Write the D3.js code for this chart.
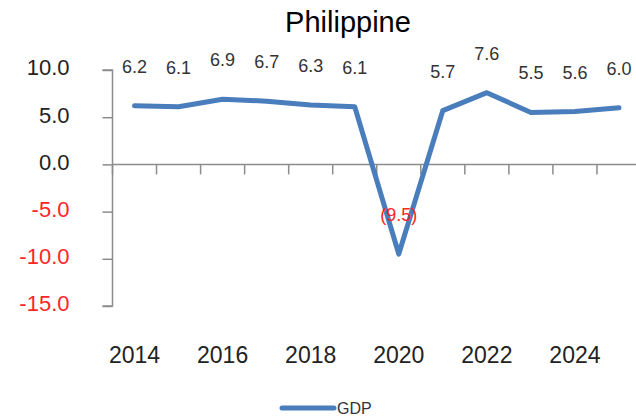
<!DOCTYPE html>
<html><head><meta charset="utf-8">
<script src="https://cdn.jsdelivr.net/npm/d3@7"></script>
<style>body{margin:0;background:#fff;overflow:hidden}svg{display:block}</style>
</head><body>
<svg id="c" width="636" height="417"></svg>
<script>
const years = ["2014","2015","2016","2017","2018","2019","2020","2021","2022","2023","2024","2025"];
const gdp = [6.2, 6.1, 6.9, 6.7, 6.3, 6.1, -9.5, 5.7, 7.6, 5.5, 5.6, 6.0];
const yTicks = [10, 5, 0, -5, -10, -15];
const xLabelYears = ["2014","2016","2018","2020","2022","2024"];
const title = "Philippine";
const seriesName = "GDP";

const svg = d3.select("#c");
const font = "'Liberation Sans', Arial, sans-serif";
const x = d3.scaleBand().domain(years).range([112.5, 641]).padding(0);
const y = d3.scaleLinear().domain([-15, 10]).range([306, 70]);
const lineColor = "#4a7dbb";
const axisColor = "#8c8c8c";
const fmt = v => v.toFixed(1).replace("\u2212", "-");

// Title
svg.append("text").attr("x", 348).attr("y", 32).attr("text-anchor", "middle")
  .attr("font-family", font).attr("font-size", 29).attr("fill", "#000").text(title);

// Y axis
const yAxis = svg.append("g").attr("transform", `translate(${x.range()[0]},0)`)
  .call(d3.axisLeft(y).tickValues(yTicks).tickSize(10).tickPadding(6).tickFormat(fmt));
yAxis.select(".domain").attr("stroke", axisColor).attr("stroke-width", 1.5).attr("d", `M-10,${y(10)}H0V${y(-15)}H-10`);
yAxis.selectAll(".tick line").attr("stroke", axisColor).attr("stroke-width", 1.5);
yAxis.selectAll(".tick text").attr("font-family", font).attr("font-size", 22)
  .attr("fill", d => d < 0 ? "#ff2525" : "#222").attr("x", -43).attr("dy", "0.22em");

// X axis at zero
const xAxisG = svg.append("g").attr("transform", `translate(0,${y(0)})`);
xAxisG.append("line").attr("x1", x.range()[0]).attr("x2", 636).attr("stroke", axisColor).attr("stroke-width", 1.5);
xAxisG.selectAll("line.t").data(years).join("line").attr("class", "t")
  .attr("x1", d => x(d)).attr("x2", d => x(d)).attr("y1", 0).attr("y2", 10)
  .attr("stroke", axisColor).attr("stroke-width", 1.5);

// X labels at bottom
svg.selectAll("text.xl").data(xLabelYears).join("text").attr("class", "xl")
  .attr("x", d => x(d) + x.bandwidth() / 2).attr("y", 363).attr("text-anchor", "middle")
  .attr("font-family", font).attr("font-size", 23).attr("fill", "#222").text(d => d);

// Line
const pts = years.map((yr, i) => ({yr, v: gdp[i]}));
svg.append("path").datum(pts)
  .attr("d", d3.line().x(d => x(d.yr) + x.bandwidth() / 2).y(d => y(d.v)))
  .attr("fill", "none").attr("stroke", lineColor).attr("stroke-width", 5)
  .attr("stroke-linejoin", "round").attr("stroke-linecap", "round");

// Data labels
svg.selectAll("text.dl").data(pts).join("text").attr("class", "dl")
  .attr("x", d => x(d.yr) + x.bandwidth() / 2).attr("y", d => y(d.v) - 33)
  .attr("text-anchor", "middle").attr("font-family", font).attr("font-size", 18)
  .attr("fill", d => d.v < 0 ? "#ff2525" : "#333")
  .text(d => d.v < 0 ? `(${Math.abs(d.v).toFixed(1)})` : d.v.toFixed(1));

// Legend
svg.append("line").attr("x1", 282).attr("x2", 334).attr("y1", 408).attr("y2", 408)
  .attr("stroke", lineColor).attr("stroke-width", 5).attr("stroke-linecap", "round");
svg.append("text").attr("x", 337).attr("y", 414).attr("font-family", font).attr("font-size", 16)
  .attr("fill", "#333").text(seriesName);
</script>
</body></html>
